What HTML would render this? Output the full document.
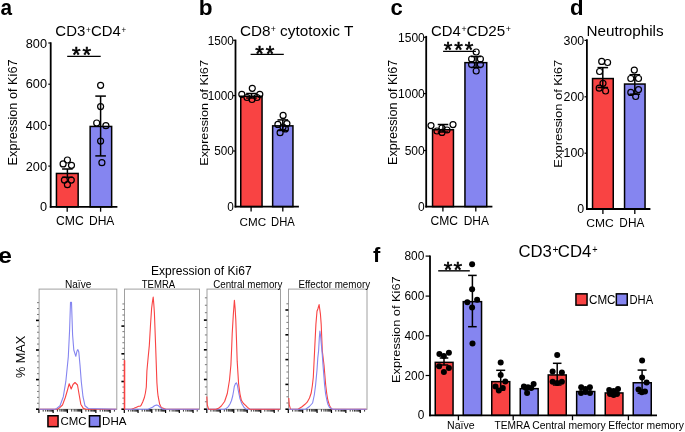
<!DOCTYPE html>
<html><head><meta charset="utf-8"><style>
html,body{margin:0;padding:0;background:#fff;overflow:hidden;}
svg{display:block;will-change:transform;}
text{font-family:"Liberation Sans", sans-serif;fill:#000;}
</style></head><body>
<svg width="685" height="432" viewBox="0 0 685 432">
<rect width="685" height="432" fill="#fff"/>
<rect x="56.45" y="173.45" width="21.70" height="33.40" fill="#f94343" stroke="#000" stroke-width="1.5"/>
<rect x="90.15" y="126.45" width="21.50" height="80.40" fill="#8585f0" stroke="#000" stroke-width="1.5"/>
<line x1="50.70" y1="42.30" x2="50.70" y2="207.70" stroke="#000" stroke-width="1.8"/>
<line x1="49.80" y1="206.80" x2="117.40" y2="206.80" stroke="#000" stroke-width="1.8"/>
<line x1="48.30" y1="43.00" x2="50.70" y2="43.00" stroke="#000" stroke-width="1.2"/>
<line x1="48.30" y1="84.20" x2="50.70" y2="84.20" stroke="#000" stroke-width="1.2"/>
<line x1="48.30" y1="125.40" x2="50.70" y2="125.40" stroke="#000" stroke-width="1.2"/>
<line x1="48.30" y1="166.10" x2="50.70" y2="166.10" stroke="#000" stroke-width="1.2"/>
<line x1="67.20" y1="206.80" x2="67.20" y2="211.70" stroke="#000" stroke-width="1.3"/>
<line x1="100.60" y1="206.80" x2="100.60" y2="211.70" stroke="#000" stroke-width="1.3"/>
<line x1="67.40" y1="169.00" x2="67.40" y2="177.30" stroke="#000" stroke-width="1.5"/>
<line x1="62.10" y1="169.00" x2="72.70" y2="169.00" stroke="#000" stroke-width="1.5"/>
<line x1="62.10" y1="177.30" x2="72.70" y2="177.30" stroke="#000" stroke-width="1.5"/>
<circle cx="67.40" cy="160.00" r="3.00" fill="none" stroke="#000" stroke-width="1.2"/>
<circle cx="63.10" cy="163.90" r="3.00" fill="none" stroke="#000" stroke-width="1.2"/>
<circle cx="71.50" cy="165.30" r="3.00" fill="none" stroke="#000" stroke-width="1.2"/>
<circle cx="64.40" cy="180.10" r="3.00" fill="none" stroke="#000" stroke-width="1.2"/>
<circle cx="71.30" cy="180.10" r="3.00" fill="none" stroke="#000" stroke-width="1.2"/>
<circle cx="67.40" cy="184.70" r="3.00" fill="none" stroke="#000" stroke-width="1.2"/>
<line x1="100.60" y1="96.10" x2="100.60" y2="155.90" stroke="#000" stroke-width="1.5"/>
<line x1="95.30" y1="96.10" x2="105.90" y2="96.10" stroke="#000" stroke-width="1.5"/>
<line x1="95.30" y1="155.90" x2="105.90" y2="155.90" stroke="#000" stroke-width="1.5"/>
<circle cx="100.60" cy="85.30" r="3.00" fill="none" stroke="#000" stroke-width="1.2"/>
<circle cx="100.60" cy="106.60" r="3.00" fill="none" stroke="#000" stroke-width="1.2"/>
<circle cx="96.70" cy="123.00" r="3.00" fill="none" stroke="#000" stroke-width="1.2"/>
<circle cx="105.90" cy="125.70" r="3.00" fill="none" stroke="#000" stroke-width="1.2"/>
<circle cx="100.60" cy="141.10" r="3.00" fill="none" stroke="#000" stroke-width="1.2"/>
<circle cx="101.90" cy="162.70" r="3.00" fill="none" stroke="#000" stroke-width="1.2"/>
<line x1="67.20" y1="56.30" x2="100.70" y2="56.30" stroke="#000" stroke-width="1.3"/>
<text x="72.00" y="61.98" font-size="22" letter-spacing="1.84" stroke="#000" stroke-width="0.6">**</text>
<rect x="240.75" y="96.25" width="21.30" height="110.40" fill="#f94343" stroke="#000" stroke-width="1.5"/>
<rect x="272.65" y="125.85" width="20.30" height="80.80" fill="#8585f0" stroke="#000" stroke-width="1.5"/>
<line x1="235.50" y1="39.60" x2="235.50" y2="207.50" stroke="#000" stroke-width="1.8"/>
<line x1="234.60" y1="206.60" x2="298.90" y2="206.60" stroke="#000" stroke-width="1.8"/>
<line x1="233.10" y1="40.30" x2="235.50" y2="40.30" stroke="#000" stroke-width="1.2"/>
<line x1="233.10" y1="95.60" x2="235.50" y2="95.60" stroke="#000" stroke-width="1.2"/>
<line x1="233.10" y1="151.00" x2="235.50" y2="151.00" stroke="#000" stroke-width="1.2"/>
<line x1="251.10" y1="206.60" x2="251.10" y2="211.50" stroke="#000" stroke-width="1.3"/>
<line x1="282.80" y1="206.60" x2="282.80" y2="211.50" stroke="#000" stroke-width="1.3"/>
<line x1="251.50" y1="93.50" x2="251.50" y2="98.00" stroke="#000" stroke-width="1.5"/>
<line x1="246.20" y1="93.50" x2="256.80" y2="93.50" stroke="#000" stroke-width="1.5"/>
<line x1="246.20" y1="98.00" x2="256.80" y2="98.00" stroke="#000" stroke-width="1.5"/>
<circle cx="252.30" cy="88.30" r="3.00" fill="none" stroke="#000" stroke-width="1.2"/>
<circle cx="241.80" cy="94.30" r="3.00" fill="none" stroke="#000" stroke-width="1.2"/>
<circle cx="259.80" cy="94.30" r="3.00" fill="none" stroke="#000" stroke-width="1.2"/>
<circle cx="247.00" cy="97.50" r="3.00" fill="none" stroke="#000" stroke-width="1.2"/>
<circle cx="257.00" cy="97.50" r="3.00" fill="none" stroke="#000" stroke-width="1.2"/>
<circle cx="252.00" cy="99.50" r="3.00" fill="none" stroke="#000" stroke-width="1.2"/>
<line x1="282.80" y1="119.90" x2="282.80" y2="130.50" stroke="#000" stroke-width="1.5"/>
<line x1="277.50" y1="119.90" x2="288.10" y2="119.90" stroke="#000" stroke-width="1.5"/>
<line x1="277.50" y1="130.50" x2="288.10" y2="130.50" stroke="#000" stroke-width="1.5"/>
<circle cx="283.10" cy="115.40" r="3.00" fill="none" stroke="#000" stroke-width="1.2"/>
<circle cx="277.90" cy="124.40" r="3.00" fill="none" stroke="#000" stroke-width="1.2"/>
<circle cx="286.90" cy="123.60" r="3.00" fill="none" stroke="#000" stroke-width="1.2"/>
<circle cx="280.10" cy="132.70" r="3.00" fill="none" stroke="#000" stroke-width="1.2"/>
<circle cx="285.40" cy="128.90" r="3.00" fill="none" stroke="#000" stroke-width="1.2"/>
<circle cx="283.00" cy="127.00" r="3.00" fill="none" stroke="#000" stroke-width="1.2"/>
<line x1="250.60" y1="54.30" x2="283.80" y2="54.30" stroke="#000" stroke-width="1.3"/>
<text x="255.20" y="61.48" font-size="22" letter-spacing="1.94" stroke="#000" stroke-width="0.6">**</text>
<rect x="432.55" y="129.75" width="20.90" height="76.90" fill="#f94343" stroke="#000" stroke-width="1.5"/>
<rect x="464.95" y="62.65" width="21.80" height="144.00" fill="#8585f0" stroke="#000" stroke-width="1.5"/>
<line x1="426.20" y1="35.90" x2="426.20" y2="207.50" stroke="#000" stroke-width="1.8"/>
<line x1="425.30" y1="206.60" x2="492.40" y2="206.60" stroke="#000" stroke-width="1.8"/>
<line x1="423.80" y1="37.30" x2="426.20" y2="37.30" stroke="#000" stroke-width="1.2"/>
<line x1="423.80" y1="93.60" x2="426.20" y2="93.60" stroke="#000" stroke-width="1.2"/>
<line x1="423.80" y1="150.50" x2="426.20" y2="150.50" stroke="#000" stroke-width="1.2"/>
<line x1="442.90" y1="206.60" x2="442.90" y2="211.50" stroke="#000" stroke-width="1.3"/>
<line x1="475.80" y1="206.60" x2="475.80" y2="211.50" stroke="#000" stroke-width="1.3"/>
<line x1="443.00" y1="124.50" x2="443.00" y2="132.00" stroke="#000" stroke-width="1.5"/>
<line x1="437.70" y1="124.50" x2="448.30" y2="124.50" stroke="#000" stroke-width="1.5"/>
<line x1="437.70" y1="132.00" x2="448.30" y2="132.00" stroke="#000" stroke-width="1.5"/>
<circle cx="431.00" cy="125.60" r="3.00" fill="none" stroke="#000" stroke-width="1.2"/>
<circle cx="453.00" cy="124.60" r="3.00" fill="none" stroke="#000" stroke-width="1.2"/>
<circle cx="442.00" cy="132.40" r="3.00" fill="none" stroke="#000" stroke-width="1.2"/>
<circle cx="437.00" cy="131.00" r="3.00" fill="none" stroke="#000" stroke-width="1.2"/>
<circle cx="447.00" cy="130.00" r="3.00" fill="none" stroke="#000" stroke-width="1.2"/>
<circle cx="442.00" cy="128.00" r="3.00" fill="none" stroke="#000" stroke-width="1.2"/>
<line x1="476.10" y1="56.50" x2="476.10" y2="67.50" stroke="#000" stroke-width="1.5"/>
<line x1="470.80" y1="56.50" x2="481.40" y2="56.50" stroke="#000" stroke-width="1.5"/>
<line x1="470.80" y1="67.50" x2="481.40" y2="67.50" stroke="#000" stroke-width="1.5"/>
<circle cx="476.20" cy="52.00" r="3.00" fill="none" stroke="#000" stroke-width="1.2"/>
<circle cx="471.60" cy="59.00" r="3.00" fill="none" stroke="#000" stroke-width="1.2"/>
<circle cx="480.40" cy="59.00" r="3.00" fill="none" stroke="#000" stroke-width="1.2"/>
<circle cx="471.60" cy="64.50" r="3.00" fill="none" stroke="#000" stroke-width="1.2"/>
<circle cx="480.40" cy="64.50" r="3.00" fill="none" stroke="#000" stroke-width="1.2"/>
<circle cx="476.20" cy="71.00" r="3.00" fill="none" stroke="#000" stroke-width="1.2"/>
<line x1="443.10" y1="51.40" x2="475.90" y2="51.40" stroke="#000" stroke-width="1.3"/>
<text x="443.80" y="57.08" font-size="22" letter-spacing="1.9" stroke="#000" stroke-width="0.6">***</text>
<rect x="592.55" y="78.55" width="20.70" height="130.50" fill="#f94343" stroke="#000" stroke-width="1.5"/>
<rect x="624.55" y="84.05" width="20.50" height="125.00" fill="#8585f0" stroke="#000" stroke-width="1.5"/>
<line x1="586.90" y1="39.20" x2="586.90" y2="209.90" stroke="#000" stroke-width="1.8"/>
<line x1="586.00" y1="209.00" x2="650.40" y2="209.00" stroke="#000" stroke-width="1.8"/>
<line x1="584.50" y1="40.40" x2="586.90" y2="40.40" stroke="#000" stroke-width="1.2"/>
<line x1="584.50" y1="96.80" x2="586.90" y2="96.80" stroke="#000" stroke-width="1.2"/>
<line x1="584.50" y1="153.20" x2="586.90" y2="153.20" stroke="#000" stroke-width="1.2"/>
<line x1="602.90" y1="209.00" x2="602.90" y2="213.90" stroke="#000" stroke-width="1.3"/>
<line x1="634.80" y1="209.00" x2="634.80" y2="213.90" stroke="#000" stroke-width="1.3"/>
<line x1="602.80" y1="67.60" x2="602.80" y2="87.50" stroke="#000" stroke-width="1.5"/>
<line x1="597.50" y1="67.60" x2="608.10" y2="67.60" stroke="#000" stroke-width="1.5"/>
<line x1="597.50" y1="87.50" x2="608.10" y2="87.50" stroke="#000" stroke-width="1.5"/>
<circle cx="601.70" cy="61.40" r="3.00" fill="none" stroke="#000" stroke-width="1.2"/>
<circle cx="607.60" cy="62.50" r="3.00" fill="none" stroke="#000" stroke-width="1.2"/>
<circle cx="599.60" cy="71.50" r="3.00" fill="none" stroke="#000" stroke-width="1.2"/>
<circle cx="603.00" cy="83.30" r="3.00" fill="none" stroke="#000" stroke-width="1.2"/>
<circle cx="599.20" cy="88.20" r="3.00" fill="none" stroke="#000" stroke-width="1.2"/>
<circle cx="605.60" cy="91.00" r="3.00" fill="none" stroke="#000" stroke-width="1.2"/>
<line x1="634.80" y1="74.70" x2="634.80" y2="94.20" stroke="#000" stroke-width="1.5"/>
<line x1="629.50" y1="74.70" x2="640.10" y2="74.70" stroke="#000" stroke-width="1.5"/>
<line x1="629.50" y1="94.20" x2="640.10" y2="94.20" stroke="#000" stroke-width="1.5"/>
<circle cx="634.30" cy="70.10" r="3.00" fill="none" stroke="#000" stroke-width="1.2"/>
<circle cx="630.80" cy="78.50" r="3.00" fill="none" stroke="#000" stroke-width="1.2"/>
<circle cx="638.50" cy="78.50" r="3.00" fill="none" stroke="#000" stroke-width="1.2"/>
<circle cx="630.80" cy="92.40" r="3.00" fill="none" stroke="#000" stroke-width="1.2"/>
<circle cx="638.50" cy="89.60" r="3.00" fill="none" stroke="#000" stroke-width="1.2"/>
<circle cx="635.70" cy="96.50" r="3.00" fill="none" stroke="#000" stroke-width="1.2"/>
<rect x="435.25" y="362.35" width="17.80" height="53.00" fill="#f94343" stroke="#000" stroke-width="1.5"/>
<rect x="463.25" y="301.65" width="18.30" height="113.70" fill="#8585f0" stroke="#000" stroke-width="1.5"/>
<rect x="491.75" y="381.65" width="18.00" height="33.70" fill="#f94343" stroke="#000" stroke-width="1.5"/>
<rect x="520.25" y="388.65" width="17.90" height="26.70" fill="#8585f0" stroke="#000" stroke-width="1.5"/>
<rect x="548.25" y="374.95" width="18.00" height="40.40" fill="#f94343" stroke="#000" stroke-width="1.5"/>
<rect x="576.65" y="391.55" width="18.10" height="23.80" fill="#8585f0" stroke="#000" stroke-width="1.5"/>
<rect x="605.25" y="392.95" width="17.70" height="22.40" fill="#f94343" stroke="#000" stroke-width="1.5"/>
<rect x="633.25" y="382.75" width="18.00" height="32.60" fill="#8585f0" stroke="#000" stroke-width="1.5"/>
<line x1="430.00" y1="255.50" x2="430.00" y2="416.20" stroke="#000" stroke-width="1.8"/>
<line x1="429.10" y1="415.30" x2="657.00" y2="415.30" stroke="#000" stroke-width="1.8"/>
<line x1="425.60" y1="256.10" x2="430.00" y2="256.10" stroke="#000" stroke-width="1.2"/>
<line x1="425.60" y1="296.10" x2="430.00" y2="296.10" stroke="#000" stroke-width="1.2"/>
<line x1="425.60" y1="335.80" x2="430.00" y2="335.80" stroke="#000" stroke-width="1.2"/>
<line x1="425.60" y1="375.50" x2="430.00" y2="375.50" stroke="#000" stroke-width="1.2"/>
<line x1="458.40" y1="415.30" x2="458.40" y2="420.20" stroke="#000" stroke-width="1.3"/>
<line x1="513.20" y1="415.30" x2="513.20" y2="420.20" stroke="#000" stroke-width="1.3"/>
<line x1="572.50" y1="415.30" x2="572.50" y2="420.20" stroke="#000" stroke-width="1.3"/>
<line x1="628.40" y1="415.30" x2="628.40" y2="420.20" stroke="#000" stroke-width="1.3"/>
<line x1="444.00" y1="358.00" x2="444.00" y2="365.00" stroke="#000" stroke-width="1.5"/>
<line x1="439.70" y1="358.00" x2="448.30" y2="358.00" stroke="#000" stroke-width="1.5"/>
<line x1="439.70" y1="365.00" x2="448.30" y2="365.00" stroke="#000" stroke-width="1.5"/>
<circle cx="439.40" cy="353.90" r="3.00" fill="#000"/>
<circle cx="448.90" cy="352.80" r="3.00" fill="#000"/>
<circle cx="443.90" cy="355.90" r="3.00" fill="#000"/>
<circle cx="439.10" cy="366.20" r="3.00" fill="#000"/>
<circle cx="448.90" cy="368.10" r="3.00" fill="#000"/>
<circle cx="443.90" cy="371.90" r="3.00" fill="#000"/>
<line x1="472.40" y1="275.40" x2="472.40" y2="326.70" stroke="#000" stroke-width="1.5"/>
<line x1="468.10" y1="275.40" x2="476.70" y2="275.40" stroke="#000" stroke-width="1.5"/>
<line x1="468.10" y1="326.70" x2="476.70" y2="326.70" stroke="#000" stroke-width="1.5"/>
<circle cx="472.10" cy="264.30" r="3.00" fill="#000"/>
<circle cx="472.10" cy="289.30" r="3.00" fill="#000"/>
<circle cx="467.30" cy="302.20" r="3.00" fill="#000"/>
<circle cx="477.10" cy="299.80" r="3.00" fill="#000"/>
<circle cx="472.10" cy="307.40" r="3.00" fill="#000"/>
<circle cx="472.50" cy="343.40" r="3.00" fill="#000"/>
<line x1="500.70" y1="370.30" x2="500.70" y2="390.00" stroke="#000" stroke-width="1.5"/>
<line x1="496.20" y1="370.30" x2="505.20" y2="370.30" stroke="#000" stroke-width="1.5"/>
<line x1="496.20" y1="390.00" x2="505.20" y2="390.00" stroke="#000" stroke-width="1.5"/>
<circle cx="500.70" cy="362.60" r="3.00" fill="#000"/>
<circle cx="500.70" cy="375.10" r="3.00" fill="#000"/>
<circle cx="505.30" cy="381.60" r="3.00" fill="#000"/>
<circle cx="495.50" cy="386.50" r="3.00" fill="#000"/>
<circle cx="502.80" cy="388.10" r="3.00" fill="#000"/>
<circle cx="498.80" cy="390.50" r="3.00" fill="#000"/>
<circle cx="523.90" cy="386.50" r="3.00" fill="#000"/>
<circle cx="533.60" cy="384.00" r="3.00" fill="#000"/>
<circle cx="527.10" cy="393.00" r="3.00" fill="#000"/>
<circle cx="531.20" cy="388.10" r="3.00" fill="#000"/>
<circle cx="528.00" cy="387.30" r="3.00" fill="#000"/>
<circle cx="526.00" cy="388.00" r="3.00" fill="#000"/>
<line x1="557.20" y1="363.30" x2="557.20" y2="385.00" stroke="#000" stroke-width="1.5"/>
<line x1="552.90" y1="363.30" x2="561.50" y2="363.30" stroke="#000" stroke-width="1.5"/>
<line x1="552.90" y1="385.00" x2="561.50" y2="385.00" stroke="#000" stroke-width="1.5"/>
<circle cx="557.20" cy="354.90" r="3.00" fill="#000"/>
<circle cx="552.60" cy="371.50" r="3.00" fill="#000"/>
<circle cx="561.90" cy="372.40" r="3.00" fill="#000"/>
<circle cx="552.60" cy="381.70" r="3.00" fill="#000"/>
<circle cx="561.90" cy="381.70" r="3.00" fill="#000"/>
<circle cx="557.20" cy="382.90" r="3.00" fill="#000"/>
<circle cx="581.20" cy="387.30" r="3.00" fill="#000"/>
<circle cx="589.90" cy="387.30" r="3.00" fill="#000"/>
<circle cx="585.50" cy="392.00" r="3.00" fill="#000"/>
<circle cx="581.00" cy="393.00" r="3.00" fill="#000"/>
<circle cx="590.00" cy="393.00" r="3.00" fill="#000"/>
<circle cx="585.50" cy="389.00" r="3.00" fill="#000"/>
<circle cx="609.20" cy="389.90" r="3.00" fill="#000"/>
<circle cx="618.00" cy="389.00" r="3.00" fill="#000"/>
<circle cx="613.60" cy="395.00" r="3.00" fill="#000"/>
<circle cx="610.00" cy="394.00" r="3.00" fill="#000"/>
<circle cx="617.00" cy="394.00" r="3.00" fill="#000"/>
<circle cx="613.60" cy="391.00" r="3.00" fill="#000"/>
<line x1="642.10" y1="370.10" x2="642.10" y2="393.30" stroke="#000" stroke-width="1.5"/>
<line x1="637.60" y1="370.10" x2="646.60" y2="370.10" stroke="#000" stroke-width="1.5"/>
<line x1="637.60" y1="393.30" x2="646.60" y2="393.30" stroke="#000" stroke-width="1.5"/>
<circle cx="642.10" cy="360.40" r="3.00" fill="#000"/>
<circle cx="642.10" cy="377.40" r="3.00" fill="#000"/>
<circle cx="646.60" cy="382.60" r="3.00" fill="#000"/>
<circle cx="638.50" cy="389.60" r="3.00" fill="#000"/>
<circle cx="645.00" cy="391.50" r="3.00" fill="#000"/>
<circle cx="641.80" cy="392.20" r="3.00" fill="#000"/>
<line x1="438.20" y1="270.80" x2="469.80" y2="270.80" stroke="#222" stroke-width="1.6"/>
<text x="443.70" y="276.78" font-size="22" letter-spacing="1.24" stroke="#000" stroke-width="0.6">**</text>
<rect x="575.95" y="293.85" width="11.10" height="11.30" fill="#f94343" stroke="#000" stroke-width="1.5"/>
<rect x="616.35" y="293.85" width="10.90" height="11.30" fill="#8585f0" stroke="#000" stroke-width="1.5"/>
<rect x="39.10" y="289.10" width="77.70" height="120.20" fill="none" stroke="#a0a0a0" stroke-width="1"/>
<line x1="36.00" y1="409.20" x2="38.90" y2="409.20" stroke="#000" stroke-width="1.6"/>
<line x1="37.00" y1="403.28" x2="38.90" y2="403.28" stroke="#555" stroke-width="0.8"/>
<line x1="37.00" y1="397.36" x2="38.90" y2="397.36" stroke="#555" stroke-width="0.8"/>
<line x1="37.00" y1="391.44" x2="38.90" y2="391.44" stroke="#555" stroke-width="0.8"/>
<line x1="37.00" y1="385.52" x2="38.90" y2="385.52" stroke="#555" stroke-width="0.8"/>
<line x1="36.00" y1="379.60" x2="38.90" y2="379.60" stroke="#000" stroke-width="1.6"/>
<line x1="37.00" y1="373.68" x2="38.90" y2="373.68" stroke="#555" stroke-width="0.8"/>
<line x1="37.00" y1="367.76" x2="38.90" y2="367.76" stroke="#555" stroke-width="0.8"/>
<line x1="37.00" y1="361.84" x2="38.90" y2="361.84" stroke="#555" stroke-width="0.8"/>
<line x1="37.00" y1="355.92" x2="38.90" y2="355.92" stroke="#555" stroke-width="0.8"/>
<line x1="36.00" y1="350.00" x2="38.90" y2="350.00" stroke="#000" stroke-width="1.6"/>
<line x1="37.00" y1="344.08" x2="38.90" y2="344.08" stroke="#555" stroke-width="0.8"/>
<line x1="37.00" y1="338.16" x2="38.90" y2="338.16" stroke="#555" stroke-width="0.8"/>
<line x1="37.00" y1="332.24" x2="38.90" y2="332.24" stroke="#555" stroke-width="0.8"/>
<line x1="37.00" y1="326.32" x2="38.90" y2="326.32" stroke="#555" stroke-width="0.8"/>
<line x1="36.00" y1="320.40" x2="38.90" y2="320.40" stroke="#000" stroke-width="1.6"/>
<line x1="37.00" y1="314.48" x2="38.90" y2="314.48" stroke="#555" stroke-width="0.8"/>
<line x1="37.00" y1="308.56" x2="38.90" y2="308.56" stroke="#555" stroke-width="0.8"/>
<line x1="37.00" y1="302.64" x2="38.90" y2="302.64" stroke="#555" stroke-width="0.8"/>
<line x1="38.90" y1="409.20" x2="38.90" y2="413.00" stroke="#000" stroke-width="1.2"/>
<line x1="43.19" y1="409.20" x2="43.19" y2="411.60" stroke="#000" stroke-width="0.8"/>
<line x1="45.70" y1="409.20" x2="45.70" y2="411.60" stroke="#000" stroke-width="0.8"/>
<line x1="47.48" y1="409.20" x2="47.48" y2="411.60" stroke="#000" stroke-width="0.8"/>
<line x1="48.86" y1="409.20" x2="48.86" y2="411.60" stroke="#000" stroke-width="0.8"/>
<line x1="49.98" y1="409.20" x2="49.98" y2="411.60" stroke="#000" stroke-width="0.8"/>
<line x1="50.94" y1="409.20" x2="50.94" y2="411.60" stroke="#000" stroke-width="0.8"/>
<line x1="51.76" y1="409.20" x2="51.76" y2="411.60" stroke="#000" stroke-width="0.8"/>
<line x1="52.49" y1="409.20" x2="52.49" y2="411.60" stroke="#000" stroke-width="0.8"/>
<line x1="53.14" y1="409.20" x2="53.14" y2="413.00" stroke="#000" stroke-width="1.2"/>
<line x1="57.43" y1="409.20" x2="57.43" y2="411.60" stroke="#000" stroke-width="0.8"/>
<line x1="59.94" y1="409.20" x2="59.94" y2="411.60" stroke="#000" stroke-width="0.8"/>
<line x1="61.72" y1="409.20" x2="61.72" y2="411.60" stroke="#000" stroke-width="0.8"/>
<line x1="63.10" y1="409.20" x2="63.10" y2="411.60" stroke="#000" stroke-width="0.8"/>
<line x1="64.23" y1="409.20" x2="64.23" y2="411.60" stroke="#000" stroke-width="0.8"/>
<line x1="65.18" y1="409.20" x2="65.18" y2="411.60" stroke="#000" stroke-width="0.8"/>
<line x1="66.01" y1="409.20" x2="66.01" y2="411.60" stroke="#000" stroke-width="0.8"/>
<line x1="66.74" y1="409.20" x2="66.74" y2="411.60" stroke="#000" stroke-width="0.8"/>
<line x1="67.39" y1="409.20" x2="67.39" y2="413.00" stroke="#000" stroke-width="1.2"/>
<line x1="71.68" y1="409.20" x2="71.68" y2="411.60" stroke="#000" stroke-width="0.8"/>
<line x1="74.19" y1="409.20" x2="74.19" y2="411.60" stroke="#000" stroke-width="0.8"/>
<line x1="75.97" y1="409.20" x2="75.97" y2="411.60" stroke="#000" stroke-width="0.8"/>
<line x1="77.35" y1="409.20" x2="77.35" y2="411.60" stroke="#000" stroke-width="0.8"/>
<line x1="78.47" y1="409.20" x2="78.47" y2="411.60" stroke="#000" stroke-width="0.8"/>
<line x1="79.43" y1="409.20" x2="79.43" y2="411.60" stroke="#000" stroke-width="0.8"/>
<line x1="80.25" y1="409.20" x2="80.25" y2="411.60" stroke="#000" stroke-width="0.8"/>
<line x1="80.98" y1="409.20" x2="80.98" y2="411.60" stroke="#000" stroke-width="0.8"/>
<line x1="81.63" y1="409.20" x2="81.63" y2="413.00" stroke="#000" stroke-width="1.2"/>
<line x1="85.92" y1="409.20" x2="85.92" y2="411.60" stroke="#000" stroke-width="0.8"/>
<line x1="88.43" y1="409.20" x2="88.43" y2="411.60" stroke="#000" stroke-width="0.8"/>
<line x1="90.21" y1="409.20" x2="90.21" y2="411.60" stroke="#000" stroke-width="0.8"/>
<line x1="91.59" y1="409.20" x2="91.59" y2="411.60" stroke="#000" stroke-width="0.8"/>
<line x1="92.72" y1="409.20" x2="92.72" y2="411.60" stroke="#000" stroke-width="0.8"/>
<line x1="93.67" y1="409.20" x2="93.67" y2="411.60" stroke="#000" stroke-width="0.8"/>
<line x1="94.50" y1="409.20" x2="94.50" y2="411.60" stroke="#000" stroke-width="0.8"/>
<line x1="95.23" y1="409.20" x2="95.23" y2="411.60" stroke="#000" stroke-width="0.8"/>
<line x1="95.88" y1="409.20" x2="95.88" y2="413.00" stroke="#000" stroke-width="1.2"/>
<line x1="100.17" y1="409.20" x2="100.17" y2="411.60" stroke="#000" stroke-width="0.8"/>
<line x1="102.68" y1="409.20" x2="102.68" y2="411.60" stroke="#000" stroke-width="0.8"/>
<line x1="104.45" y1="409.20" x2="104.45" y2="411.60" stroke="#000" stroke-width="0.8"/>
<line x1="105.84" y1="409.20" x2="105.84" y2="411.60" stroke="#000" stroke-width="0.8"/>
<line x1="106.96" y1="409.20" x2="106.96" y2="411.60" stroke="#000" stroke-width="0.8"/>
<line x1="107.92" y1="409.20" x2="107.92" y2="411.60" stroke="#000" stroke-width="0.8"/>
<line x1="108.74" y1="409.20" x2="108.74" y2="411.60" stroke="#000" stroke-width="0.8"/>
<line x1="109.47" y1="409.20" x2="109.47" y2="411.60" stroke="#000" stroke-width="0.8"/>
<line x1="110.12" y1="409.20" x2="110.12" y2="413.00" stroke="#000" stroke-width="1.2"/>
<line x1="114.41" y1="409.20" x2="114.41" y2="411.60" stroke="#000" stroke-width="0.8"/>
<rect x="124.50" y="289.10" width="75.00" height="120.20" fill="none" stroke="#a0a0a0" stroke-width="1"/>
<line x1="121.40" y1="409.20" x2="124.30" y2="409.20" stroke="#000" stroke-width="1.6"/>
<line x1="122.40" y1="403.66" x2="124.30" y2="403.66" stroke="#555" stroke-width="0.8"/>
<line x1="122.40" y1="398.12" x2="124.30" y2="398.12" stroke="#555" stroke-width="0.8"/>
<line x1="122.40" y1="392.58" x2="124.30" y2="392.58" stroke="#555" stroke-width="0.8"/>
<line x1="122.40" y1="387.04" x2="124.30" y2="387.04" stroke="#555" stroke-width="0.8"/>
<line x1="121.40" y1="381.50" x2="124.30" y2="381.50" stroke="#000" stroke-width="1.6"/>
<line x1="122.40" y1="375.96" x2="124.30" y2="375.96" stroke="#555" stroke-width="0.8"/>
<line x1="122.40" y1="370.42" x2="124.30" y2="370.42" stroke="#555" stroke-width="0.8"/>
<line x1="122.40" y1="364.88" x2="124.30" y2="364.88" stroke="#555" stroke-width="0.8"/>
<line x1="122.40" y1="359.34" x2="124.30" y2="359.34" stroke="#555" stroke-width="0.8"/>
<line x1="121.40" y1="353.80" x2="124.30" y2="353.80" stroke="#000" stroke-width="1.6"/>
<line x1="122.40" y1="348.26" x2="124.30" y2="348.26" stroke="#555" stroke-width="0.8"/>
<line x1="122.40" y1="342.72" x2="124.30" y2="342.72" stroke="#555" stroke-width="0.8"/>
<line x1="122.40" y1="337.18" x2="124.30" y2="337.18" stroke="#555" stroke-width="0.8"/>
<line x1="122.40" y1="331.64" x2="124.30" y2="331.64" stroke="#555" stroke-width="0.8"/>
<line x1="121.40" y1="326.10" x2="124.30" y2="326.10" stroke="#000" stroke-width="1.6"/>
<line x1="122.40" y1="320.56" x2="124.30" y2="320.56" stroke="#555" stroke-width="0.8"/>
<line x1="122.40" y1="315.02" x2="124.30" y2="315.02" stroke="#555" stroke-width="0.8"/>
<line x1="122.40" y1="309.48" x2="124.30" y2="309.48" stroke="#555" stroke-width="0.8"/>
<line x1="122.40" y1="303.94" x2="124.30" y2="303.94" stroke="#555" stroke-width="0.8"/>
<line x1="124.30" y1="409.20" x2="124.30" y2="413.00" stroke="#000" stroke-width="1.2"/>
<line x1="128.44" y1="409.20" x2="128.44" y2="411.60" stroke="#000" stroke-width="0.8"/>
<line x1="130.86" y1="409.20" x2="130.86" y2="411.60" stroke="#000" stroke-width="0.8"/>
<line x1="132.58" y1="409.20" x2="132.58" y2="411.60" stroke="#000" stroke-width="0.8"/>
<line x1="133.92" y1="409.20" x2="133.92" y2="411.60" stroke="#000" stroke-width="0.8"/>
<line x1="135.00" y1="409.20" x2="135.00" y2="411.60" stroke="#000" stroke-width="0.8"/>
<line x1="135.93" y1="409.20" x2="135.93" y2="411.60" stroke="#000" stroke-width="0.8"/>
<line x1="136.72" y1="409.20" x2="136.72" y2="411.60" stroke="#000" stroke-width="0.8"/>
<line x1="137.43" y1="409.20" x2="137.43" y2="411.60" stroke="#000" stroke-width="0.8"/>
<line x1="138.06" y1="409.20" x2="138.06" y2="413.00" stroke="#000" stroke-width="1.2"/>
<line x1="142.20" y1="409.20" x2="142.20" y2="411.60" stroke="#000" stroke-width="0.8"/>
<line x1="144.62" y1="409.20" x2="144.62" y2="411.60" stroke="#000" stroke-width="0.8"/>
<line x1="146.34" y1="409.20" x2="146.34" y2="411.60" stroke="#000" stroke-width="0.8"/>
<line x1="147.67" y1="409.20" x2="147.67" y2="411.60" stroke="#000" stroke-width="0.8"/>
<line x1="148.76" y1="409.20" x2="148.76" y2="411.60" stroke="#000" stroke-width="0.8"/>
<line x1="149.68" y1="409.20" x2="149.68" y2="411.60" stroke="#000" stroke-width="0.8"/>
<line x1="150.48" y1="409.20" x2="150.48" y2="411.60" stroke="#000" stroke-width="0.8"/>
<line x1="151.18" y1="409.20" x2="151.18" y2="411.60" stroke="#000" stroke-width="0.8"/>
<line x1="151.81" y1="409.20" x2="151.81" y2="413.00" stroke="#000" stroke-width="1.2"/>
<line x1="155.95" y1="409.20" x2="155.95" y2="411.60" stroke="#000" stroke-width="0.8"/>
<line x1="158.38" y1="409.20" x2="158.38" y2="411.60" stroke="#000" stroke-width="0.8"/>
<line x1="160.09" y1="409.20" x2="160.09" y2="411.60" stroke="#000" stroke-width="0.8"/>
<line x1="161.43" y1="409.20" x2="161.43" y2="411.60" stroke="#000" stroke-width="0.8"/>
<line x1="162.52" y1="409.20" x2="162.52" y2="411.60" stroke="#000" stroke-width="0.8"/>
<line x1="163.44" y1="409.20" x2="163.44" y2="411.60" stroke="#000" stroke-width="0.8"/>
<line x1="164.23" y1="409.20" x2="164.23" y2="411.60" stroke="#000" stroke-width="0.8"/>
<line x1="164.94" y1="409.20" x2="164.94" y2="411.60" stroke="#000" stroke-width="0.8"/>
<line x1="165.57" y1="409.20" x2="165.57" y2="413.00" stroke="#000" stroke-width="1.2"/>
<line x1="169.71" y1="409.20" x2="169.71" y2="411.60" stroke="#000" stroke-width="0.8"/>
<line x1="172.13" y1="409.20" x2="172.13" y2="411.60" stroke="#000" stroke-width="0.8"/>
<line x1="173.85" y1="409.20" x2="173.85" y2="411.60" stroke="#000" stroke-width="0.8"/>
<line x1="175.18" y1="409.20" x2="175.18" y2="411.60" stroke="#000" stroke-width="0.8"/>
<line x1="176.27" y1="409.20" x2="176.27" y2="411.60" stroke="#000" stroke-width="0.8"/>
<line x1="177.19" y1="409.20" x2="177.19" y2="411.60" stroke="#000" stroke-width="0.8"/>
<line x1="177.99" y1="409.20" x2="177.99" y2="411.60" stroke="#000" stroke-width="0.8"/>
<line x1="178.69" y1="409.20" x2="178.69" y2="411.60" stroke="#000" stroke-width="0.8"/>
<line x1="179.32" y1="409.20" x2="179.32" y2="413.00" stroke="#000" stroke-width="1.2"/>
<line x1="183.46" y1="409.20" x2="183.46" y2="411.60" stroke="#000" stroke-width="0.8"/>
<line x1="185.89" y1="409.20" x2="185.89" y2="411.60" stroke="#000" stroke-width="0.8"/>
<line x1="187.61" y1="409.20" x2="187.61" y2="411.60" stroke="#000" stroke-width="0.8"/>
<line x1="188.94" y1="409.20" x2="188.94" y2="411.60" stroke="#000" stroke-width="0.8"/>
<line x1="190.03" y1="409.20" x2="190.03" y2="411.60" stroke="#000" stroke-width="0.8"/>
<line x1="190.95" y1="409.20" x2="190.95" y2="411.60" stroke="#000" stroke-width="0.8"/>
<line x1="191.75" y1="409.20" x2="191.75" y2="411.60" stroke="#000" stroke-width="0.8"/>
<line x1="192.45" y1="409.20" x2="192.45" y2="411.60" stroke="#000" stroke-width="0.8"/>
<line x1="193.08" y1="409.20" x2="193.08" y2="413.00" stroke="#000" stroke-width="1.2"/>
<line x1="197.22" y1="409.20" x2="197.22" y2="411.60" stroke="#000" stroke-width="0.8"/>
<rect x="207.00" y="289.10" width="73.50" height="120.20" fill="none" stroke="#a0a0a0" stroke-width="1"/>
<line x1="203.90" y1="409.20" x2="206.80" y2="409.20" stroke="#000" stroke-width="1.6"/>
<line x1="204.90" y1="401.77" x2="206.80" y2="401.77" stroke="#555" stroke-width="0.8"/>
<line x1="204.90" y1="394.35" x2="206.80" y2="394.35" stroke="#555" stroke-width="0.8"/>
<line x1="204.90" y1="386.93" x2="206.80" y2="386.93" stroke="#555" stroke-width="0.8"/>
<line x1="203.90" y1="379.50" x2="206.80" y2="379.50" stroke="#000" stroke-width="1.6"/>
<line x1="204.90" y1="372.07" x2="206.80" y2="372.07" stroke="#555" stroke-width="0.8"/>
<line x1="204.90" y1="364.65" x2="206.80" y2="364.65" stroke="#555" stroke-width="0.8"/>
<line x1="204.90" y1="357.22" x2="206.80" y2="357.22" stroke="#555" stroke-width="0.8"/>
<line x1="203.90" y1="349.80" x2="206.80" y2="349.80" stroke="#000" stroke-width="1.6"/>
<line x1="204.90" y1="342.38" x2="206.80" y2="342.38" stroke="#555" stroke-width="0.8"/>
<line x1="204.90" y1="334.95" x2="206.80" y2="334.95" stroke="#555" stroke-width="0.8"/>
<line x1="204.90" y1="327.52" x2="206.80" y2="327.52" stroke="#555" stroke-width="0.8"/>
<line x1="203.90" y1="320.10" x2="206.80" y2="320.10" stroke="#000" stroke-width="1.6"/>
<line x1="204.90" y1="312.68" x2="206.80" y2="312.68" stroke="#555" stroke-width="0.8"/>
<line x1="204.90" y1="305.25" x2="206.80" y2="305.25" stroke="#555" stroke-width="0.8"/>
<line x1="204.90" y1="297.82" x2="206.80" y2="297.82" stroke="#555" stroke-width="0.8"/>
<line x1="206.80" y1="409.20" x2="206.80" y2="413.00" stroke="#000" stroke-width="1.2"/>
<line x1="210.86" y1="409.20" x2="210.86" y2="411.60" stroke="#000" stroke-width="0.8"/>
<line x1="213.23" y1="409.20" x2="213.23" y2="411.60" stroke="#000" stroke-width="0.8"/>
<line x1="214.92" y1="409.20" x2="214.92" y2="411.60" stroke="#000" stroke-width="0.8"/>
<line x1="216.23" y1="409.20" x2="216.23" y2="411.60" stroke="#000" stroke-width="0.8"/>
<line x1="217.29" y1="409.20" x2="217.29" y2="411.60" stroke="#000" stroke-width="0.8"/>
<line x1="218.20" y1="409.20" x2="218.20" y2="411.60" stroke="#000" stroke-width="0.8"/>
<line x1="218.98" y1="409.20" x2="218.98" y2="411.60" stroke="#000" stroke-width="0.8"/>
<line x1="219.67" y1="409.20" x2="219.67" y2="411.60" stroke="#000" stroke-width="0.8"/>
<line x1="220.28" y1="409.20" x2="220.28" y2="413.00" stroke="#000" stroke-width="1.2"/>
<line x1="224.34" y1="409.20" x2="224.34" y2="411.60" stroke="#000" stroke-width="0.8"/>
<line x1="226.72" y1="409.20" x2="226.72" y2="411.60" stroke="#000" stroke-width="0.8"/>
<line x1="228.40" y1="409.20" x2="228.40" y2="411.60" stroke="#000" stroke-width="0.8"/>
<line x1="229.71" y1="409.20" x2="229.71" y2="411.60" stroke="#000" stroke-width="0.8"/>
<line x1="230.78" y1="409.20" x2="230.78" y2="411.60" stroke="#000" stroke-width="0.8"/>
<line x1="231.68" y1="409.20" x2="231.68" y2="411.60" stroke="#000" stroke-width="0.8"/>
<line x1="232.46" y1="409.20" x2="232.46" y2="411.60" stroke="#000" stroke-width="0.8"/>
<line x1="233.15" y1="409.20" x2="233.15" y2="411.60" stroke="#000" stroke-width="0.8"/>
<line x1="233.77" y1="409.20" x2="233.77" y2="413.00" stroke="#000" stroke-width="1.2"/>
<line x1="237.83" y1="409.20" x2="237.83" y2="411.60" stroke="#000" stroke-width="0.8"/>
<line x1="240.20" y1="409.20" x2="240.20" y2="411.60" stroke="#000" stroke-width="0.8"/>
<line x1="241.89" y1="409.20" x2="241.89" y2="411.60" stroke="#000" stroke-width="0.8"/>
<line x1="243.19" y1="409.20" x2="243.19" y2="411.60" stroke="#000" stroke-width="0.8"/>
<line x1="244.26" y1="409.20" x2="244.26" y2="411.60" stroke="#000" stroke-width="0.8"/>
<line x1="245.16" y1="409.20" x2="245.16" y2="411.60" stroke="#000" stroke-width="0.8"/>
<line x1="245.95" y1="409.20" x2="245.95" y2="411.60" stroke="#000" stroke-width="0.8"/>
<line x1="246.64" y1="409.20" x2="246.64" y2="411.60" stroke="#000" stroke-width="0.8"/>
<line x1="247.25" y1="409.20" x2="247.25" y2="413.00" stroke="#000" stroke-width="1.2"/>
<line x1="251.31" y1="409.20" x2="251.31" y2="411.60" stroke="#000" stroke-width="0.8"/>
<line x1="253.69" y1="409.20" x2="253.69" y2="411.60" stroke="#000" stroke-width="0.8"/>
<line x1="255.37" y1="409.20" x2="255.37" y2="411.60" stroke="#000" stroke-width="0.8"/>
<line x1="256.68" y1="409.20" x2="256.68" y2="411.60" stroke="#000" stroke-width="0.8"/>
<line x1="257.75" y1="409.20" x2="257.75" y2="411.60" stroke="#000" stroke-width="0.8"/>
<line x1="258.65" y1="409.20" x2="258.65" y2="411.60" stroke="#000" stroke-width="0.8"/>
<line x1="259.43" y1="409.20" x2="259.43" y2="411.60" stroke="#000" stroke-width="0.8"/>
<line x1="260.12" y1="409.20" x2="260.12" y2="411.60" stroke="#000" stroke-width="0.8"/>
<line x1="260.74" y1="409.20" x2="260.74" y2="413.00" stroke="#000" stroke-width="1.2"/>
<line x1="264.80" y1="409.20" x2="264.80" y2="411.60" stroke="#000" stroke-width="0.8"/>
<line x1="267.17" y1="409.20" x2="267.17" y2="411.60" stroke="#000" stroke-width="0.8"/>
<line x1="268.86" y1="409.20" x2="268.86" y2="411.60" stroke="#000" stroke-width="0.8"/>
<line x1="270.16" y1="409.20" x2="270.16" y2="411.60" stroke="#000" stroke-width="0.8"/>
<line x1="271.23" y1="409.20" x2="271.23" y2="411.60" stroke="#000" stroke-width="0.8"/>
<line x1="272.13" y1="409.20" x2="272.13" y2="411.60" stroke="#000" stroke-width="0.8"/>
<line x1="272.92" y1="409.20" x2="272.92" y2="411.60" stroke="#000" stroke-width="0.8"/>
<line x1="273.61" y1="409.20" x2="273.61" y2="411.60" stroke="#000" stroke-width="0.8"/>
<line x1="274.22" y1="409.20" x2="274.22" y2="413.00" stroke="#000" stroke-width="1.2"/>
<line x1="278.28" y1="409.20" x2="278.28" y2="411.60" stroke="#000" stroke-width="0.8"/>
<rect x="288.50" y="289.10" width="78.50" height="120.20" fill="none" stroke="#a0a0a0" stroke-width="1"/>
<line x1="285.40" y1="409.20" x2="288.30" y2="409.20" stroke="#000" stroke-width="1.6"/>
<line x1="286.40" y1="403.00" x2="288.30" y2="403.00" stroke="#555" stroke-width="0.8"/>
<line x1="286.40" y1="396.80" x2="288.30" y2="396.80" stroke="#555" stroke-width="0.8"/>
<line x1="286.40" y1="390.60" x2="288.30" y2="390.60" stroke="#555" stroke-width="0.8"/>
<line x1="285.40" y1="384.40" x2="288.30" y2="384.40" stroke="#000" stroke-width="1.6"/>
<line x1="286.40" y1="378.20" x2="288.30" y2="378.20" stroke="#555" stroke-width="0.8"/>
<line x1="286.40" y1="372.00" x2="288.30" y2="372.00" stroke="#555" stroke-width="0.8"/>
<line x1="286.40" y1="365.80" x2="288.30" y2="365.80" stroke="#555" stroke-width="0.8"/>
<line x1="285.40" y1="359.60" x2="288.30" y2="359.60" stroke="#000" stroke-width="1.6"/>
<line x1="286.40" y1="353.40" x2="288.30" y2="353.40" stroke="#555" stroke-width="0.8"/>
<line x1="286.40" y1="347.20" x2="288.30" y2="347.20" stroke="#555" stroke-width="0.8"/>
<line x1="286.40" y1="341.00" x2="288.30" y2="341.00" stroke="#555" stroke-width="0.8"/>
<line x1="285.40" y1="334.80" x2="288.30" y2="334.80" stroke="#000" stroke-width="1.6"/>
<line x1="286.40" y1="328.60" x2="288.30" y2="328.60" stroke="#555" stroke-width="0.8"/>
<line x1="286.40" y1="322.40" x2="288.30" y2="322.40" stroke="#555" stroke-width="0.8"/>
<line x1="286.40" y1="316.20" x2="288.30" y2="316.20" stroke="#555" stroke-width="0.8"/>
<line x1="285.40" y1="310.00" x2="288.30" y2="310.00" stroke="#000" stroke-width="1.6"/>
<line x1="286.40" y1="303.80" x2="288.30" y2="303.80" stroke="#555" stroke-width="0.8"/>
<line x1="288.30" y1="409.20" x2="288.30" y2="413.00" stroke="#000" stroke-width="1.2"/>
<line x1="292.63" y1="409.20" x2="292.63" y2="411.60" stroke="#000" stroke-width="0.8"/>
<line x1="295.17" y1="409.20" x2="295.17" y2="411.60" stroke="#000" stroke-width="0.8"/>
<line x1="296.96" y1="409.20" x2="296.96" y2="411.60" stroke="#000" stroke-width="0.8"/>
<line x1="298.36" y1="409.20" x2="298.36" y2="411.60" stroke="#000" stroke-width="0.8"/>
<line x1="299.50" y1="409.20" x2="299.50" y2="411.60" stroke="#000" stroke-width="0.8"/>
<line x1="300.46" y1="409.20" x2="300.46" y2="411.60" stroke="#000" stroke-width="0.8"/>
<line x1="301.30" y1="409.20" x2="301.30" y2="411.60" stroke="#000" stroke-width="0.8"/>
<line x1="302.03" y1="409.20" x2="302.03" y2="411.60" stroke="#000" stroke-width="0.8"/>
<line x1="302.69" y1="409.20" x2="302.69" y2="413.00" stroke="#000" stroke-width="1.2"/>
<line x1="307.02" y1="409.20" x2="307.02" y2="411.60" stroke="#000" stroke-width="0.8"/>
<line x1="309.56" y1="409.20" x2="309.56" y2="411.60" stroke="#000" stroke-width="0.8"/>
<line x1="311.35" y1="409.20" x2="311.35" y2="411.60" stroke="#000" stroke-width="0.8"/>
<line x1="312.75" y1="409.20" x2="312.75" y2="411.60" stroke="#000" stroke-width="0.8"/>
<line x1="313.89" y1="409.20" x2="313.89" y2="411.60" stroke="#000" stroke-width="0.8"/>
<line x1="314.85" y1="409.20" x2="314.85" y2="411.60" stroke="#000" stroke-width="0.8"/>
<line x1="315.68" y1="409.20" x2="315.68" y2="411.60" stroke="#000" stroke-width="0.8"/>
<line x1="316.42" y1="409.20" x2="316.42" y2="411.60" stroke="#000" stroke-width="0.8"/>
<line x1="317.08" y1="409.20" x2="317.08" y2="413.00" stroke="#000" stroke-width="1.2"/>
<line x1="321.41" y1="409.20" x2="321.41" y2="411.60" stroke="#000" stroke-width="0.8"/>
<line x1="323.94" y1="409.20" x2="323.94" y2="411.60" stroke="#000" stroke-width="0.8"/>
<line x1="325.74" y1="409.20" x2="325.74" y2="411.60" stroke="#000" stroke-width="0.8"/>
<line x1="327.14" y1="409.20" x2="327.14" y2="411.60" stroke="#000" stroke-width="0.8"/>
<line x1="328.28" y1="409.20" x2="328.28" y2="411.60" stroke="#000" stroke-width="0.8"/>
<line x1="329.24" y1="409.20" x2="329.24" y2="411.60" stroke="#000" stroke-width="0.8"/>
<line x1="330.07" y1="409.20" x2="330.07" y2="411.60" stroke="#000" stroke-width="0.8"/>
<line x1="330.81" y1="409.20" x2="330.81" y2="411.60" stroke="#000" stroke-width="0.8"/>
<line x1="331.47" y1="409.20" x2="331.47" y2="413.00" stroke="#000" stroke-width="1.2"/>
<line x1="335.80" y1="409.20" x2="335.80" y2="411.60" stroke="#000" stroke-width="0.8"/>
<line x1="338.33" y1="409.20" x2="338.33" y2="411.60" stroke="#000" stroke-width="0.8"/>
<line x1="340.13" y1="409.20" x2="340.13" y2="411.60" stroke="#000" stroke-width="0.8"/>
<line x1="341.53" y1="409.20" x2="341.53" y2="411.60" stroke="#000" stroke-width="0.8"/>
<line x1="342.67" y1="409.20" x2="342.67" y2="411.60" stroke="#000" stroke-width="0.8"/>
<line x1="343.63" y1="409.20" x2="343.63" y2="411.60" stroke="#000" stroke-width="0.8"/>
<line x1="344.46" y1="409.20" x2="344.46" y2="411.60" stroke="#000" stroke-width="0.8"/>
<line x1="345.20" y1="409.20" x2="345.20" y2="411.60" stroke="#000" stroke-width="0.8"/>
<line x1="345.86" y1="409.20" x2="345.86" y2="413.00" stroke="#000" stroke-width="1.2"/>
<line x1="350.19" y1="409.20" x2="350.19" y2="411.60" stroke="#000" stroke-width="0.8"/>
<line x1="352.72" y1="409.20" x2="352.72" y2="411.60" stroke="#000" stroke-width="0.8"/>
<line x1="354.52" y1="409.20" x2="354.52" y2="411.60" stroke="#000" stroke-width="0.8"/>
<line x1="355.92" y1="409.20" x2="355.92" y2="411.60" stroke="#000" stroke-width="0.8"/>
<line x1="357.06" y1="409.20" x2="357.06" y2="411.60" stroke="#000" stroke-width="0.8"/>
<line x1="358.02" y1="409.20" x2="358.02" y2="411.60" stroke="#000" stroke-width="0.8"/>
<line x1="358.85" y1="409.20" x2="358.85" y2="411.60" stroke="#000" stroke-width="0.8"/>
<line x1="359.59" y1="409.20" x2="359.59" y2="411.60" stroke="#000" stroke-width="0.8"/>
<line x1="360.25" y1="409.20" x2="360.25" y2="413.00" stroke="#000" stroke-width="1.2"/>
<line x1="364.58" y1="409.20" x2="364.58" y2="411.60" stroke="#000" stroke-width="0.8"/>
<rect x="47.95" y="415.75" width="10.10" height="10.90" fill="#f94343" stroke="#000" stroke-width="1.5"/>
<rect x="89.45" y="415.75" width="10.50" height="10.90" fill="#8585f0" stroke="#000" stroke-width="1.5"/>
<line x1="124.50" y1="360.30" x2="124.50" y2="409.20" stroke="#f94343" stroke-width="1.5"/>
<path d="M39.5,409.2 L57.0,409.2 L59.2,408.1 L62.5,405.0 L65.3,397.5 L67.5,390.0 L69.2,383.7 L71.2,389.0 L73.0,384.5 L75.0,382.5 L77.5,385.0 L79.2,395.0 L80.8,404.2 L83.3,408.4 L86.0,409.2 L116.5,409.2" fill="none" stroke="#f94343" stroke-width="1.1" stroke-linejoin="round"/>
<path d="M39.5,409.2 L55.0,409.2 L56.7,408.4 L60.0,405.8 L63.3,396.7 L65.8,381.7 L68.3,356.7 L69.6,330.0 L70.5,302.3 L71.5,302.3 L72.6,335.0 L73.8,350.0 L75.8,356.3 L77.0,351.0 L77.9,349.6 L78.8,352.0 L80.0,365.0 L81.3,381.7 L83.0,396.7 L85.0,405.8 L88.3,408.5 L116.5,409.2" fill="none" stroke="#8585f0" stroke-width="1.1" stroke-linejoin="round"/>
<path d="M124.5,360.3 L124.5,409.2 L131.3,409.2 L134.0,408.3 L136.5,407.2 L138.6,406.3 L140.0,406.2 L141.0,405.5 L142.7,402.0 L144.3,397.8 L145.4,393.0 L146.3,387.0 L146.9,371.0 L148.1,358.0 L149.3,345.6 L150.5,325.0 L151.6,308.5 L152.4,302.0 L153.2,297.0 L153.8,304.0 L154.4,313.0 L155.7,347.9 L156.9,382.6 L157.6,392.0 L158.1,396.2 L159.7,404.3 L161.3,407.6 L164.6,408.8 L166.0,409.2 L199.0,409.2" fill="none" stroke="#f94343" stroke-width="1.1" stroke-linejoin="round"/>
<path d="M125.0,409.2 L148.0,409.2 L150.3,408.2 L152.5,407.3 L154.5,405.8 L156.5,405.0 L158.3,405.6 L159.8,407.0 L161.4,408.3 L163.0,409.2 L199.0,409.2" fill="none" stroke="#8585f0" stroke-width="1.1" stroke-linejoin="round"/>
<path d="M207.0,409.2 L224.5,409.2 L226.5,408.3 L228.3,406.6 L230.0,404.0 L231.5,400.5 L232.7,396.0 L233.6,391.0 L234.3,386.5 L235.5,383.5 L236.5,382.9 L237.3,385.0 L238.2,390.0 L239.8,398.0 L241.0,401.5 L242.0,404.0 L244.1,407.5 L246.0,409.2 L280.0,409.2" fill="none" stroke="#8585f0" stroke-width="1.1" stroke-linejoin="round"/>
<path d="M206.8,396.5 L207.3,405.0 L208.6,409.2 L216.0,409.2 L218.5,408.3 L221.3,406.0 L224.6,401.5 L227.3,393.5 L229.5,380.0 L230.9,365.0 L231.7,347.0 L232.2,333.7 L233.3,315.0 L234.4,300.3 L235.1,308.0 L235.8,319.8 L236.5,340.0 L237.2,361.4 L238.6,383.7 L240.0,394.0 L241.4,400.3 L243.5,403.5 L245.6,405.3 L247.5,407.3 L249.7,409.2 L280.0,409.2" fill="none" stroke="#f94343" stroke-width="1.1" stroke-linejoin="round"/>
<path d="M288.8,398.0 L289.3,405.0 L290.5,409.2 L298.0,409.2 L302.0,406.7 L305.0,404.3 L307.2,402.2 L309.5,398.0 L311.2,393.0 L312.3,386.0 L313.3,377.2 L314.6,350.8 L315.9,324.4 L317.0,311.2 L318.0,308.5 L319.1,304.6 L320.4,313.8 L321.2,324.4 L322.3,350.8 L324.0,365.0 L325.7,385.0 L326.8,394.0 L327.8,400.0 L329.5,405.5 L331.7,409.2 L366.5,409.2" fill="none" stroke="#f94343" stroke-width="1.1" stroke-linejoin="round"/>
<path d="M289.0,409.2 L305.6,409.2 L309.4,406.5 L312.6,403.0 L314.3,395.0 L315.6,385.0 L317.0,370.0 L317.8,358.0 L318.6,350.8 L319.3,338.0 L319.9,331.0 L320.6,336.0 L321.2,342.9 L322.3,355.0 L323.0,365.0 L324.6,385.0 L325.6,394.0 L326.8,400.0 L328.0,404.5 L329.5,407.5 L332.7,409.2 L366.5,409.2" fill="none" stroke="#8585f0" stroke-width="1.1" stroke-linejoin="round"/>
<text transform="translate(0.58,15.40) scale(0.966,1)" font-size="21.48" font-weight="bold">a</text>
<text transform="translate(198.82,15.30) scale(1.051,1)" font-size="21.50" font-weight="bold">b</text>
<text transform="translate(390.42,15.19) scale(1.027,1)" font-size="21.45" font-weight="bold">c</text>
<text transform="translate(570.11,15.00) scale(1.033,1)" font-size="21.50" font-weight="bold">d</text>
<text transform="translate(-1.78,262.78) scale(1.136,1)" font-size="21.64" font-weight="bold">e</text>
<text transform="translate(372.96,262.30) scale(1.053,1)" font-size="20.82" font-weight="bold">f</text>
<text transform="translate(25.73,47.69) scale(0.980,1)" font-size="13.00">800</text>
<text transform="translate(25.73,88.39) scale(0.980,1)" font-size="13.00">600</text>
<text transform="translate(25.73,129.69) scale(0.980,1)" font-size="13.00">400</text>
<text transform="translate(25.73,170.58) scale(0.980,1)" font-size="13.00">200</text>
<text transform="translate(39.88,211.28) scale(0.980,1)" font-size="13.00">0</text>
<text transform="translate(55.99,224.90) scale(1.005,1)" font-size="12.14">CMC</text>
<text transform="translate(88.93,224.90) scale(0.980,1)" font-size="12.32">DHA</text>
<text transform="translate(55.35,35.50) scale(1.028,1)" font-size="14.57">CD3</text>
<text transform="translate(86.08,32.56) scale(0.869,1)" font-size="9.59">+</text>
<text transform="translate(90.96,35.50) scale(1.022,1)" font-size="14.57">CD4</text>
<text transform="translate(121.60,32.56) scale(0.825,1)" font-size="9.59">+</text>
<text transform="translate(16.90,165.42) scale(1.002,1) rotate(-90)" font-size="12.72">Expression of Ki67</text>
<text transform="translate(207.72,44.78) scale(0.950,1)" font-size="12.40">1500</text>
<text transform="translate(207.72,99.88) scale(0.950,1)" font-size="12.40">1000</text>
<text transform="translate(214.20,155.28) scale(0.950,1)" font-size="12.40">500</text>
<text transform="translate(227.27,210.88) scale(0.950,1)" font-size="12.40">0</text>
<text transform="translate(239.52,226.10) scale(0.995,1)" font-size="11.71">CMC</text>
<text transform="translate(271.10,226.10) scale(0.945,1)" font-size="11.88">DHA</text>
<text transform="translate(240.04,35.60) scale(1.049,1)" font-size="14.57">CD8</text>
<text transform="translate(270.86,32.17) scale(1.021,1)" font-size="8.57">+</text>
<text transform="translate(280.08,35.60) scale(1.013,1)" font-size="15.20">cytotoxic T</text>
<text transform="translate(207.50,165.71) scale(0.875,1) rotate(-90)" font-size="12.68">Expression of Ki67</text>
<text transform="translate(398.04,42.04) scale(1.000,1)" font-size="12.00">1500</text>
<text transform="translate(398.04,98.24) scale(1.000,1)" font-size="12.00">1000</text>
<text transform="translate(404.64,155.14) scale(1.000,1)" font-size="12.00">500</text>
<text transform="translate(417.96,211.14) scale(1.000,1)" font-size="12.00">0</text>
<text transform="translate(430.49,224.80) scale(0.997,1)" font-size="12.14">CMC</text>
<text transform="translate(463.64,224.80) scale(0.972,1)" font-size="12.32">DHA</text>
<text transform="translate(430.96,35.80) scale(0.990,1)" font-size="15.00">CD4</text>
<text transform="translate(461.46,31.93) scale(1.072,1)" font-size="8.16">+</text>
<text transform="translate(466.44,35.80) scale(1.011,1)" font-size="15.00">CD25</text>
<text transform="translate(505.75,31.93) scale(1.097,1)" font-size="8.16">+</text>
<text transform="translate(397.00,164.91) scale(0.956,1) rotate(-90)" font-size="12.61">Expression of Ki67</text>
<text transform="translate(563.49,44.68) scale(1.000,1)" font-size="12.40">300</text>
<text transform="translate(563.49,101.08) scale(1.000,1)" font-size="12.40">200</text>
<text transform="translate(563.49,156.98) scale(1.000,1)" font-size="12.40">100</text>
<text transform="translate(577.25,213.28) scale(1.000,1)" font-size="12.40">0</text>
<text transform="translate(586.20,226.60) scale(1.030,1)" font-size="11.71">CMC</text>
<text transform="translate(619.35,226.60) scale(0.995,1)" font-size="11.88">DHA</text>
<text transform="translate(586.48,35.70) scale(1.032,1)" font-size="14.79">Neutrophils</text>
<text transform="translate(561.80,167.64) scale(0.877,1) rotate(-90)" font-size="12.96">Expression of Ki67</text>
<text transform="translate(404.50,259.78) scale(0.960,1)" font-size="12.40">800</text>
<text transform="translate(404.50,300.08) scale(0.960,1)" font-size="12.40">600</text>
<text transform="translate(404.50,339.78) scale(0.960,1)" font-size="12.40">400</text>
<text transform="translate(404.50,379.58) scale(0.960,1)" font-size="12.40">200</text>
<text transform="translate(417.71,419.38) scale(0.960,1)" font-size="12.40">0</text>
<text transform="translate(518.46,257.30) scale(0.991,1)" font-size="16.86">CD3</text>
<text transform="translate(552.48,253.40) scale(1.042,1)" font-size="10.00">+</text>
<text transform="translate(557.86,257.30) scale(0.995,1)" font-size="16.86">CD4</text>
<text transform="translate(592.14,253.40) scale(0.917,1)" font-size="10.00">+</text>
<text transform="translate(400.00,382.92) scale(0.911,1) rotate(-90)" font-size="12.78">Expression of Ki67</text>
<text transform="translate(447.06,429.30) scale(1.025,1)" font-size="10.30">Naïve</text>
<text transform="translate(494.50,429.30) scale(0.990,1)" font-size="10.30">TEMRA</text>
<text transform="translate(532.18,429.30) scale(1.005,1)" font-size="10.30">Central memory</text>
<text transform="translate(608.37,429.30) scale(1.002,1)" font-size="10.30">Effector memory</text>
<text transform="translate(589.02,304.30) scale(0.937,1)" font-size="12.43">CMC</text>
<text transform="translate(629.51,304.30) scale(0.887,1)" font-size="12.61">DHA</text>
<text transform="translate(150.93,275.00) scale(0.930,1)" font-size="13.00">Expression of Ki67</text>
<text transform="translate(64.99,287.60) scale(0.915,1)" font-size="11.01">Naïve</text>
<text transform="translate(141.71,287.80) scale(0.930,1)" font-size="10.29">TEMRA</text>
<text transform="translate(213.21,287.60) scale(0.947,1)" font-size="10.30">Central memory</text>
<text transform="translate(298.42,287.60) scale(0.951,1)" font-size="10.30">Effector memory</text>
<text transform="translate(25.00,378.11) scale(1.025,1) rotate(-90)" font-size="12.72">% MAX</text>
<text transform="translate(60.43,425.30) scale(0.987,1)" font-size="11.57">CMC</text>
<text transform="translate(102.08,425.30) scale(0.982,1)" font-size="11.74">DHA</text>
</svg>
</body></html>
